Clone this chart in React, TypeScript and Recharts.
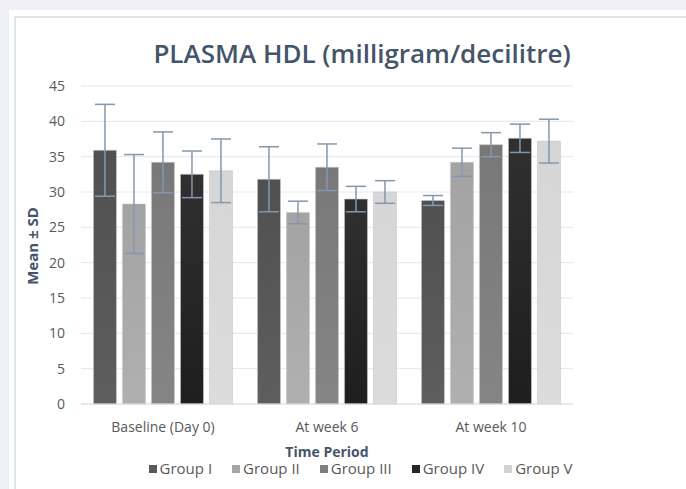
import { BarChart, Bar, XAxis, YAxis, CartesianGrid, ErrorBar } from 'recharts';

const periods = ['Baseline (Day 0)', 'At week 6', 'At week 10'];
const groups = ['Group I', 'Group II', 'Group III', 'Group IV', 'Group V'];

const groupI = [35.9, 31.8, 28.8];
const groupII = [28.3, 27.1, 34.2];
const groupIII = [34.2, 33.5, 36.7];
const groupIV = [32.5, 29.0, 37.6];
const groupV = [33.0, 30.0, 37.2];

const sdI = [6.5, 4.6, 0.7];
const sdII = [7.0, 1.6, 2.0];
const sdIII = [4.3, 3.3, 1.7];
const sdIV = [3.3, 1.8, 2.0];
const sdV = [4.5, 1.6, 3.1];

const yTicks = [0, 5, 10, 15, 20, 25, 30, 35, 40, 45];

const means = [groupI, groupII, groupIII, groupIV, groupV];
const sds = [sdI, sdII, sdIII, sdIV, sdV];

// top / bottom shade of each bar's gradient
const SHADES = [
  ['#505050', '#5e5e5e'],
  ['#a3a3a3', '#b0b0b0'],
  ['#787878', '#858585'],
  ['#303030', '#1e1e1e'],
  ['#d6d6d6', '#dcdcdc'],
];
const SWATCH = ['#595959', '#a6a6a6', '#7f7f7f', '#262626', '#d3d3d3'];

const data = periods.map((name, i) => {
  const row: Record<string, string | number> = { name };
  groups.forEach((_, g) => {
    row[`g${g}`] = means[g][i];
    row[`sd${g}`] = sds[g][i];
  });
  return row;
});

const FONT = '"Open Sans", "DejaVu Sans", sans-serif';
const SLATE = '#44546a';
const GREY = '#595959';

export default function App() {
  return (
    <div
      style={{
        position: 'absolute', left: 0, top: 0, width: 686, height: 489,
        background: '#eef0f3', overflow: 'hidden', fontFamily: FONT,
      }}
    >
      <div style={{ position: 'absolute', left: 9, top: 10, right: 0, bottom: 0, background: '#fff' }} />
      <div
        style={{
          position: 'absolute', left: 14, top: 16, right: 0, bottom: 0, background: '#fff',
          borderLeft: '2px solid #dfe5ec', borderTop: '2px solid #dfe5ec',
        }}
      />
      <div
        style={{
          position: 'absolute', left: 362, top: 53, transform: 'translate(-50%, -50%)',
          fontSize: 26, lineHeight: '30px', fontWeight: 600, color: SLATE, whiteSpace: 'nowrap',
        }}
      >
        PLASMA HDL (milligram/decilitre)
      </div>
      <div
        style={{
          position: 'absolute', left: 32, top: 246, transform: 'translate(-50%, -50%) rotate(-90deg)',
          fontSize: 15, lineHeight: '16px', fontWeight: 700, color: SLATE, whiteSpace: 'nowrap',
        }}
      >
        Mean ± SD
      </div>
      <div
        style={{
          position: 'absolute', left: 327, top: 452, transform: 'translate(-50%, -50%)',
          fontSize: 14, lineHeight: '14px', fontWeight: 700, color: SLATE, whiteSpace: 'nowrap',
        }}
      >
        Time Period
      </div>
      <div
        style={{
          position: 'absolute', left: 0, width: 721, top: 461, display: 'flex',
          justifyContent: 'center', gap: 20, fontSize: 15, lineHeight: '15px', color: GREY,
        }}
      >
        {groups.map((g, i) => (
          <div key={g} style={{ display: 'flex', alignItems: 'center', gap: 3 }}>
            <span style={{ width: 8, height: 8, background: SWATCH[i], display: 'inline-block' }} />
            <span>{g}</span>
          </div>
        ))}
      </div>

      <div style={{ position: 'absolute', left: 0, top: 0 }}>
        <BarChart
          width={686}
          height={489}
          data={data}
          margin={{ top: 86, right: 113, bottom: 55, left: 31 }}
          barCategoryGap="7.6%"
          barGap={6}
        >
          <defs>
            {SHADES.map((s, i) => (
              <linearGradient key={i} id={`grad${i}`} x1="0" y1="0" x2="0" y2="1">
                <stop offset="0%" stopColor={s[0]} />
                <stop offset="100%" stopColor={s[1]} />
              </linearGradient>
            ))}
          </defs>
          <CartesianGrid vertical={false} stroke="#e3e7ed" />
          <XAxis
            dataKey="name"
            height={30}
            tickLine={false}
            tickSize={0}
            tickMargin={18}
            axisLine={{ stroke: '#dadde2' }}
            tick={{ fill: GREY, fontSize: 14, fontFamily: FONT }}
          />
          <YAxis
            width={50}
            domain={[0, 45]}
            ticks={yTicks}
            interval={0}
            axisLine={false}
            tickLine={false}
            tickSize={0}
            tickMargin={16}
            tick={{ fill: GREY, fontSize: 14, fontFamily: FONT }}
          />
          {groups.map((g, i) => (
            <Bar
              key={g}
              dataKey={`g${i}`}
              name={g}
              fill={`url(#grad${i})`}
              stroke="#c8c8c8"
              strokeOpacity={0.6}
              strokeWidth={1}
              isAnimationActive={false}
            >
              <ErrorBar dataKey={`sd${i}`} direction="y" width={10} stroke="#8497b0" strokeWidth={1.5} />
            </Bar>
          ))}
        </BarChart>
      </div>
    </div>
  );
}
